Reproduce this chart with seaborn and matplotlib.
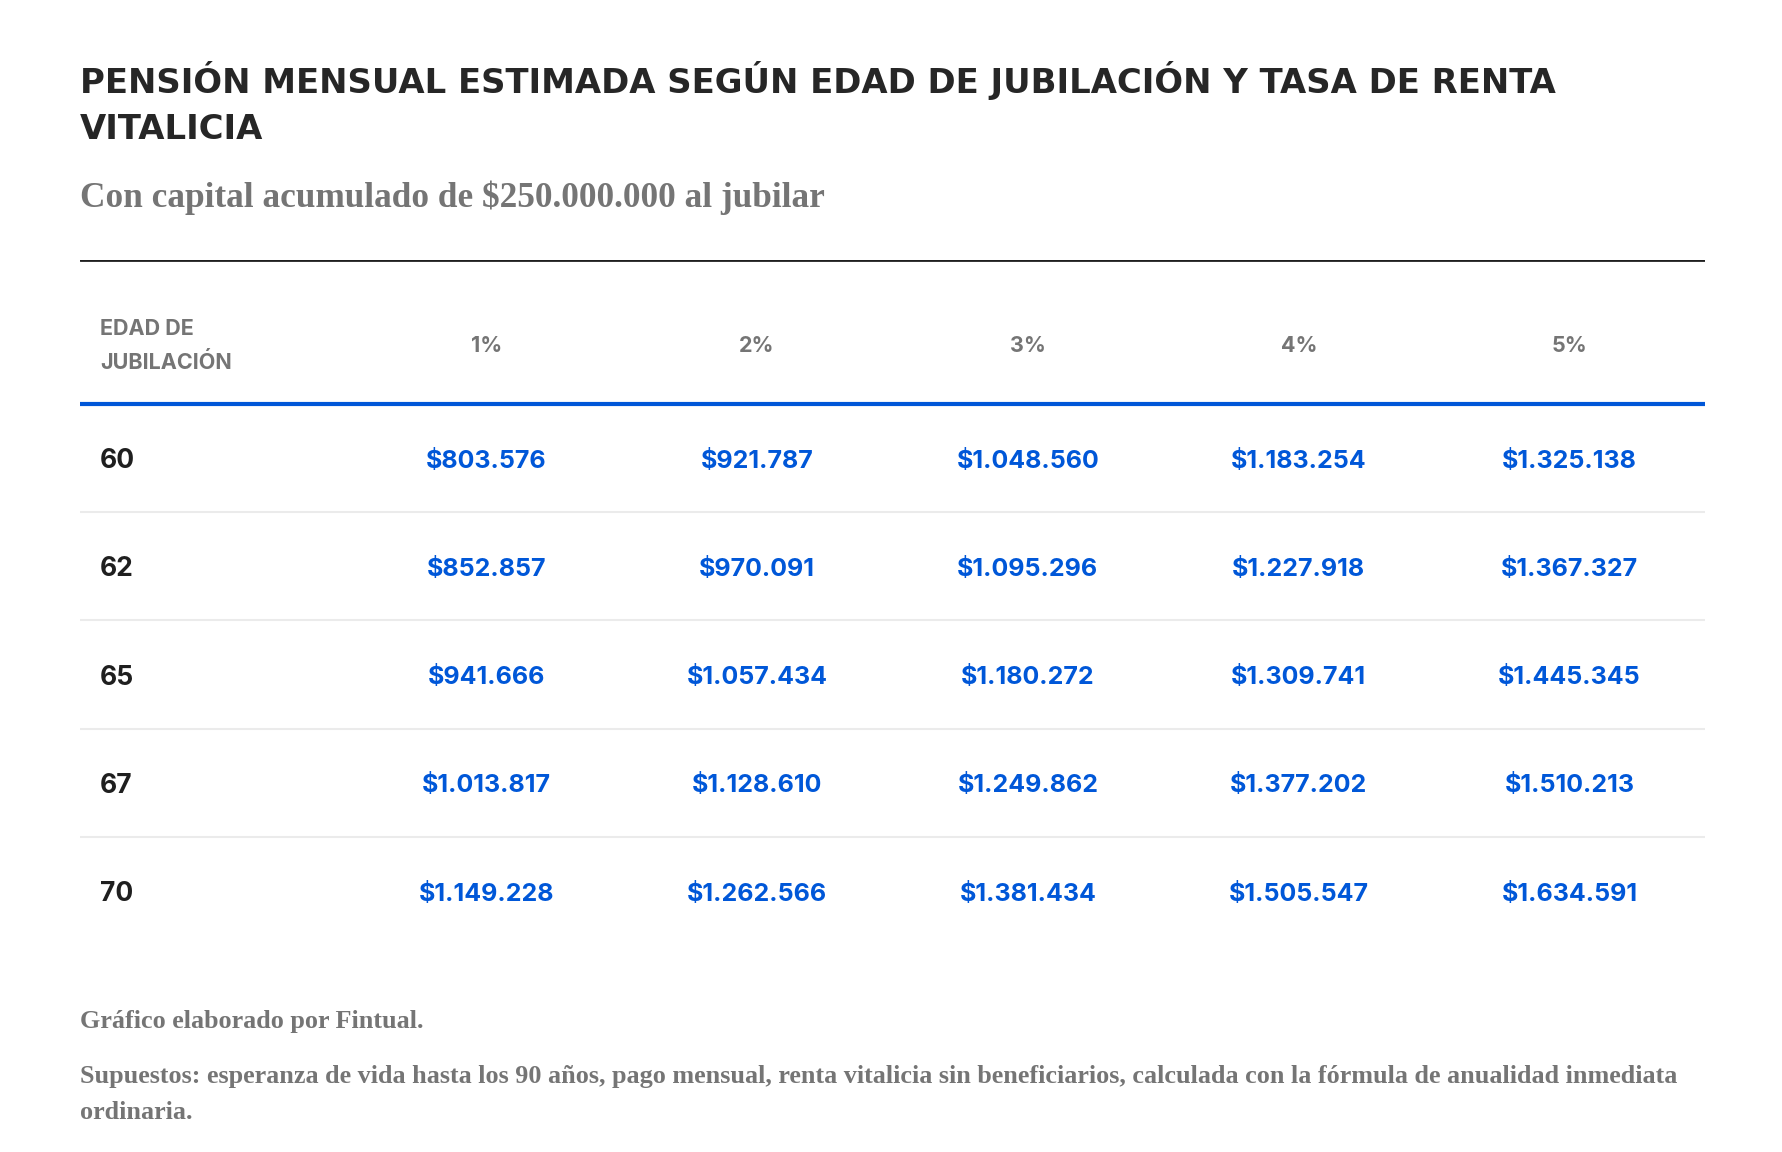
import numpy as np
import pandas as pd
import matplotlib
matplotlib.use("Agg")
import matplotlib.pyplot as plt
from matplotlib.colors import ListedColormap
import seaborn as sns

ages = ["60", "62", "65", "67", "70"]
rates = ["1%", "2%", "3%", "4%", "5%"]
pension_1 = [803576, 852857, 941666, 1013817, 1149228]
pension_2 = [921787, 970091, 1057434, 1128610, 1262566]
pension_3 = [1048560, 1095296, 1180272, 1249862, 1381434]
pension_4 = [1183254, 1227918, 1309741, 1377202, 1505547]
pension_5 = [1325138, 1367327, 1445345, 1510213, 1634591]

title_lines = ["PENSIÓN MENSUAL ESTIMADA SEGÚN EDAD DE JUBILACIÓN Y TASA DE RENTA",
               "VITALICIA"]
subtitle = "Con capital acumulado de $250.000.000 al jubilar"
first_header = "EDAD DE\nJUBILACIÓN"
footer_lines = ["Gráfico elaborado por Fintual.",
                "Supuestos: esperanza de vida hasta los 90 años, pago mensual, renta vitalicia sin beneficiarios, calculada con la fórmula de anualidad inmediata",
                "ordinaria."]

BLUE = "#0057d8"
DARK = "#262626"
GREY = "#757575"
SANS = ["Inter", "DejaVu Sans"]
TITLE_FONT = ["DejaVu Sans"]
SERIF = ["Liberation Serif", "DejaVu Serif"]

W, H = 1782, 1152


def fy(px):
    """Convert a pixel row (from top) to figure fraction."""
    return 1 - px / H


def fmt_clp(v):
    return "$" + f"{v:,}".replace(",", ".")


df = pd.DataFrame({r: s for r, s in zip(rates, [pension_1, pension_2, pension_3,
                                                  pension_4, pension_5])}, index=ages)
labels = df.apply(lambda col: col.map(fmt_clp))

sns.set_theme(style="white")
fig = plt.figure(figsize=(W / 100, H / 100), dpi=100)
fig.patch.set_facecolor("white")

# Title and subtitle
left = 80 / W
fig.text(left, fy(93), title_lines[0], family=TITLE_FONT, fontsize=24.4, fontweight="bold",
         color=DARK, va="baseline", ha="left")
fig.text(left, fy(139), title_lines[1], family=TITLE_FONT, fontsize=24.4, fontweight="bold",
         color=DARK, va="baseline", ha="left")
fig.text(left, fy(207), subtitle, family=SERIF, fontsize=25.4, fontweight="bold",
         color=GREY, va="baseline", ha="left")

# Table axes: x from -1 (age column) to 5, y rows 0..5 plus header band
top_px, bottom_px = 260, 945
row_h = 108.3
col_w = (1705 - 80) / 6
header_units = (404 - top_px) / row_h
ax = fig.add_axes([80 / W, 1 - bottom_px / H, (1705 - 80) / W, (bottom_px - top_px) / H])

sns.heatmap(df, annot=labels.values, fmt="", cmap=ListedColormap(["white"]), cbar=False,
            ax=ax, linewidths=0,
            annot_kws=dict(color=BLUE, fontsize=18, fontweight="bold", family=SANS))

# nudge the annotations slightly downward to match the reference baseline
for t in ax.texts:
    x, y = t.get_position()
    t.set_position((x, y + 0.03))

ax.set_xlim(-1, len(rates))
ax.set_ylim(len(ages), -header_units)
ax.set_xticks([])
ax.set_yticks([])
ax.set_xlabel("")
ax.set_ylabel("")
for sp in ax.spines.values():
    sp.set_visible(False)

# Header row
hy = -header_units / 2 + 0.13
ax.text(-1 + 20 / col_w, hy, first_header, family=SANS, fontsize=15.5,
        fontweight="bold", color=GREY, ha="left", va="center", linespacing=1.75)
for j, r in enumerate(rates):
    ax.text(j + 0.5, hy, r, family=SANS, fontsize=15.5, fontweight="bold", color=GREY,
            ha="center", va="center")

# Age column
for i, a in enumerate(ages):
    ax.text(-1 + 20 / col_w, i + 0.53, a, family=SANS, fontsize=19, fontweight="bold",
            color="#1f1f1f", ha="left", va="center")

# Rules
ax.axhline(-header_units, color="#1f1f1f", lw=2)
ax.axhline(0, color=BLUE, lw=3)
for i in range(1, len(ages)):
    ax.axhline(i, color="#ebebeb", lw=1.5)

# Footer
for txt, ypx in zip(footer_lines, [1028, 1083, 1119]):
    fig.text(left, fy(ypx), txt, family=SERIF, fontsize=18.8, fontweight="bold",
             color=GREY, va="baseline", ha="left")

fig.savefig("out.png", dpi=100, facecolor="white")
